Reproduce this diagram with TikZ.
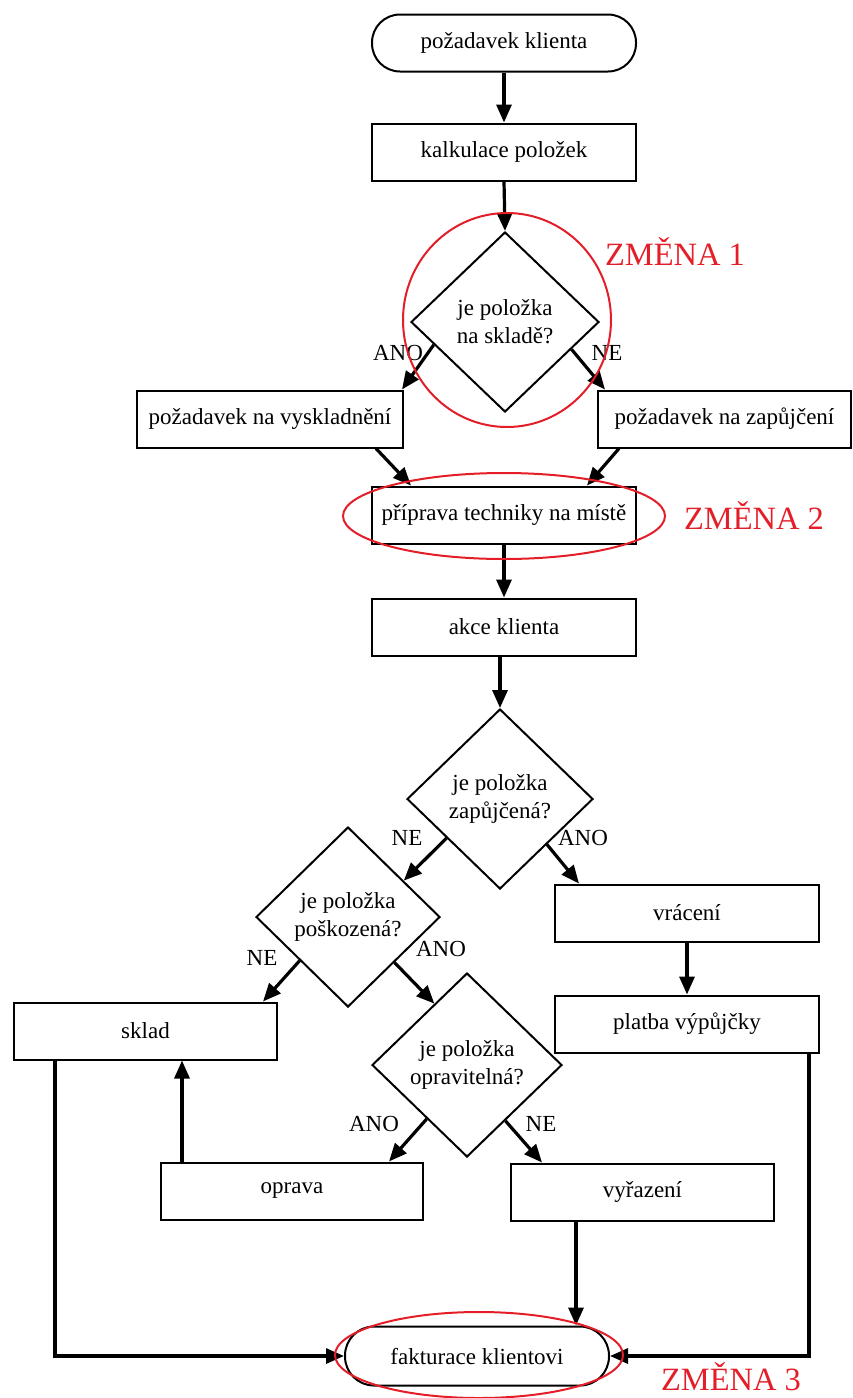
\documentclass[tikz,border=0pt]{standalone}
\usepackage{fontspec}
\setmainfont{Liberation Serif}
\usetikzlibrary{shapes.geometric,arrows.meta,calc}
\definecolor{zred}{RGB}{228,30,40}
\begin{document}
\begin{tikzpicture}[x=1pt,y=-1pt,
 every node/.style={font=\fontsize{23}{28}\selectfont, align=center},
 box/.style={draw, line width=2pt, minimum width=264pt, minimum height=57pt, inner sep=0pt},
 term/.style={box, rounded corners=28pt},
 dec/.style={draw, diamond, line width=2pt, inner sep=0pt, aspect=1},
 arr/.style={line width=3.2pt, -{Triangle[length=18pt,width=15pt]}},
 lab/.style={inner sep=0pt},
 ring/.style={draw=zred, ellipse, line width=2pt, inner sep=0pt},
 zmena/.style={text=zred, font=\fontsize{32.5}{36}\selectfont, inner sep=0pt}
]
\useasboundingbox (0,0) rectangle (853,1398);

% process nodes
\node[term] (start) at (504,43) {požadavek klienta};
\node[box] (kalk) at (504,152) {kalkulace položek};
\node[dec, minimum width=188pt, minimum height=180pt] (d1) at (505,322) {je položka\\na skladě?};
\node[box, minimum width=266pt] (vysk) at (270,419) {požadavek na vyskladnění};
\node[box, minimum width=253pt] (zap) at (724.5,419) {požadavek na zapůjčení};
\node[box] (prip) at (504,515) {příprava techniky na místě};
\node[box] (akce) at (504,627) {akce klienta};
\node[dec, minimum width=186pt, minimum height=180pt] (d2) at (500,799) {je položka\\zapůjčená?};
\node[dec, minimum width=184pt, minimum height=180pt] (d3) at (348,917) {je položka\\poškozená?};
\node[box] (vrac) at (687,913) {vrácení};
\node[box] (platba) at (687,1024) {platba výpůjčky};
\node[box, minimum width=263pt] (sklad) at (145.5,1031) {sklad};
\node[dec, minimum width=190pt, minimum height=184pt] (d4) at (467,1065) {je položka\\opravitelná?};
\node[box, minimum width=262pt] (oprava) at (292,1191) {oprava};
\node[box, minimum width=263pt] (vyr) at (642.5,1192) {vyřazení};
\node[term, minimum height=59pt, rounded corners=29pt] (fakt) at (477,1356) {fakturace klientovi};

% branch labels
\node[lab] (l1) at (398,353) {ANO};
\node[lab] (l2) at (607,353) {NE};
\node[lab] (l3) at (407,838) {NE};
\node[lab] (l4) at (583,838) {ANO};
\node[lab] (l5) at (262,958) {NE};
\node[lab] (l6) at (441,949) {ANO};
\node[lab] (l7) at (374,1124) {ANO};
\node[lab] (l8) at (541,1124) {NE};

% connectors
\draw[arr] (start.south) -- (kalk.north);
\draw[arr] (kalk.south) -- (d1.north);
\draw[arr] ($(d1.west)!0.25!(d1.south)$) -- ($(vysk.north east)+(-2,0)$);
\draw[arr] ($(d1.east)!0.3!(d1.south)$) -- ($(zap.north west)+(8,0)$);
\draw[arr] ($(vysk.south east)+(-28,0)$) -- ($(prip.north west)+(40,0)$);
\draw[arr] ($(zap.south west)+(22,0)$) -- ($(prip.north east)+(-50,0)$);
\draw[arr] (prip.south) -- (akce.north);
\draw[arr] (akce.south -| d2.north) -- (d2.north);
\draw[arr] ($(d2.west)!0.43!(d2.south)$) -- ($(d3.north)!0.6!(d3.east)$);
\draw[arr] ($(d2.east)!0.5!(d2.south)$) -- ($(vrac.north west)+(25,0)$);
\draw[arr] (vrac.south) -- (platba.north);
\draw[arr] ($(d3.west)!0.48!(d3.south)$) -- ($(sklad.north east)+(-15,0)$);
\draw[arr] ($(d3.east)!0.5!(d3.south)$) -- ($(d4.west)!0.66!(d4.north)$);
\draw[arr] ($(d4.west)!0.58!(d4.south)$) -- ($(oprava.north east)+(-35,0)$);
\draw[arr] ($(d4.east)!0.6!(d4.south)$) -- ($(vyr.north west)+(32,0)$);
\draw[arr] ($(oprava.north west)+(22,0)$) coordinate (o1) -- (o1 |- sklad.south);
\draw[arr] ($(sklad.south west)+(42,0)$) |- (fakt.west);
\draw[arr] ($(platba.south east)+(-11,0)$) |- (fakt.east);
\draw[arr] ($(vyr.south west)+(66,0)$) coordinate (v1) -- (v1 |- fakt.north);

% change markers
\node[ring, minimum width=208pt, minimum height=214pt] (r1) at (507,320) {};
\node[ring, minimum width=322pt, minimum height=86pt] (r2) at (504,516) {};
\node[ring, minimum width=288pt, minimum height=86pt] (r3) at (479,1355) {};
\node[zmena] (z1) at (675,252) {ZMĚNA 1};
\node[zmena] (z2) at (754,516) {ZMĚNA 2};
\node[zmena] (z3) at (731,1377) {ZMĚNA 3};
\end{tikzpicture}
\end{document}
